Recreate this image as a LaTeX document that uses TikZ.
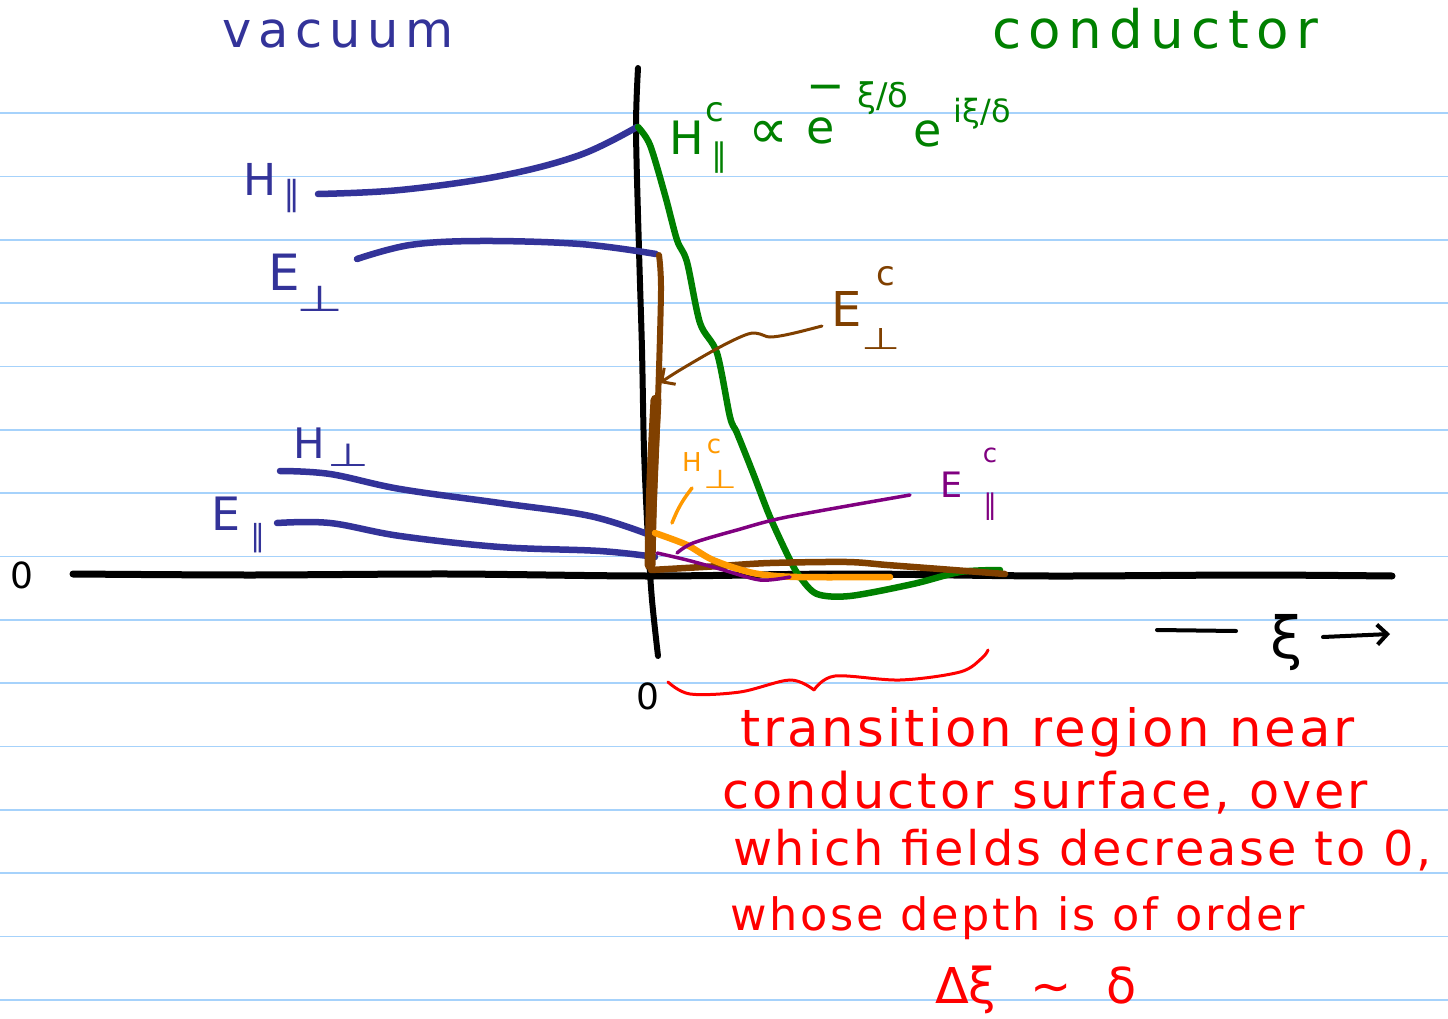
\documentclass[tikz,border=0pt]{standalone}
\usepackage{fontspec}
\setmainfont{DejaVu Sans}
\newfontfamily\handfont[LetterSpace=6]{DejaVu Sans}
\newfontfamily\widefont[LetterSpace=14]{DejaVu Sans}
\usetikzlibrary{arrows.meta}
\definecolor{rulecol}{HTML}{A6D2FB}
\definecolor{vac}{HTML}{333399}
\definecolor{cgreen}{HTML}{008000}
\definecolor{cbrown}{HTML}{804000}
\definecolor{corange}{HTML}{FF9900}
\definecolor{cpurple}{HTML}{800080}
\definecolor{cred}{HTML}{FF0000}
\newcommand\fs[1]{\fontsize{#1}{#1}\selectfont}
\newcommand\fitw[2]{\resizebox{#1pt}{!}{#2}}
\newcommand\wperp[1]{\scalebox{1.5}[1]{#1}}
\tikzset{
  ruleline/.style={rulecol, line width=1.6pt},
  curve/.style={line width=6.5pt, line cap=round, line join=round},
  lbl/.style={inner sep=0pt, outer sep=0pt},
}
\begin{document}
\begin{tikzpicture}[x=1pt,y=-1pt]
\useasboundingbox (0,0) rectangle (1448,1019);
\fill[white] (0,0) rectangle (1448,1019);
% ruled lines
\foreach \yy in {113,176.5,240,303,366.5,430,493,556.5,620,683,746.5,810,873,936.5,1000}
  \draw[ruleline] (0,\yy) -- (1448,\yy);

% headings
\node[lbl, anchor=base west, text=vac] (vac) at (222,48) {\fitw{232}{\widefont\fs{40}vacuum}};
\node[lbl, anchor=base west, text=cgreen] (cond) at (992,49) {\fitw{326}{\widefont\fs{40}conductor}};

% axes
\draw[curve, black, line width=7pt] plot[smooth, tension=0.5] coordinates {(73,574) (250,575) (450,574) (650,576) (850,574) (1050,576) (1250,575) (1392,576)};
\draw[curve, black, line width=6pt] plot[smooth, tension=0.5] coordinates {(638,68) (636,130) (639,250) (642,350) (644,450) (648,540) (652,600) (658,656)};
\node[lbl, text=black] (z1) at (22,575) {\fs{36}0};
\node[lbl, text=black] (z2) at (648,696) {\fs{36}0};

% xi axis label
\coordinate (xa) at (1157,630);
\coordinate (xb) at (1236,631);
\draw[line width=4pt, line cap=round] (xa) -- (xb);
\node[lbl] (xi) at (1287,643) {\fs{58}ξ};
\coordinate (xc) at (1323,637);
\coordinate (xd) at (1390,634);
\draw[line width=4pt, line cap=round, -{Straight Barb[length=10pt,width=20pt,line width=4pt]}] (xc) -- (xd);

% vacuum curves
\draw[curve, vac] plot[smooth, tension=0.6] coordinates {(318,194) (400,190) (500,176) (580,155) (637,127)};
\draw[curve, vac] plot[smooth, tension=0.6] coordinates {(357,259) (410,245) (480,241) (580,244) (656,254)};
\draw[curve, vac] plot[smooth, tension=0.6] coordinates {(280,471) (330,474) (400,489) (500,503) (590,516) (650,535)};
\draw[curve, vac] plot[smooth, tension=0.6] coordinates {(277,523) (330,523) (400,536) (500,547) (600,551) (655,557)};

% vacuum labels
\node[lbl, text=vac, anchor=base west] (hp) at (243,196) {\fs{44}H};
\node[lbl, text=vac] (hpsub) at (292,196) {\fs{34}∥};
\node[lbl, text=vac, anchor=base west] (ep) at (268,290) {\fs{50}E};
\node[lbl, text=vac] (epsub) at (320,299) {\fs{36}\wperp{⊥}};
\node[lbl, text=vac, anchor=base west] (hpp) at (293,458) {\fs{42}H};
\node[lbl, text=vac] (hppsub) at (348,455) {\fs{32}\wperp{⊥}};
\node[lbl, text=vac, anchor=base west] (epp) at (211,530) {\fs{46}E};
\node[lbl, text=vac] (eppsub) at (258,538) {\fs{30}∥};

% green H_par^c
\draw[curve, cgreen] plot[smooth, tension=0.5] coordinates {(638,127) (650,145) (665,195) (677,240) (687,262) (700,323) (717,353) (730,417) (737,433) (753,473) (770,517) (790,560) (800,577) (817,594) (850,596) (913,584) (960,572) (1000,570)};
\node[lbl, text=cgreen, anchor=base west] (gh) at (669,155) {\fs{46}H};
\node[lbl, text=cgreen] (ghc) at (715,112) {\fs{34}c};
\node[lbl, text=cgreen] (ghs) at (719,158) {\fs{32}∥};
\node[lbl, text=cgreen] (gprop) at (768,135) {\fs{56}∝};
\node[lbl, text=cgreen] (ge1) at (821,131) {\fs{46}e};
\node[lbl, text=cgreen] (gmin) at (826,93) {\fs{46}−};
\node[lbl, text=cgreen] (gx1) at (883,98) {\fs{34}ξ/δ};
\node[lbl, text=cgreen] (ge2) at (928,134) {\fs{46}e};
\node[lbl, text=cgreen] (gx2) at (982,114) {\fs{32}iξ/δ};

% brown E_perp^c
\draw[line width=6pt, cbrown, line cap=round] plot[smooth, tension=0.5] coordinates {(659,255) (661,290) (658,400) (654,500) (651,570)};
\draw[line width=11pt, cbrown, line cap=round] plot[smooth, tension=0.5] coordinates {(656,400) (652,480) (650,565)};
\draw[curve, cbrown] plot[smooth, tension=0.5] coordinates {(651,570) (720,566) (770,563) (847,562) (887,565) (940,569) (1005,574)};
\node[lbl, text=cbrown, anchor=base west] (bE) at (831,326) {\fs{48}E};
\node[lbl, text=cbrown] (bc) at (886,276) {\fs{34}c};
\node[lbl, text=cbrown] (bs) at (881,339) {\fs{30}\wperp{⊥}};
\coordinate (barr) at (660,383);
\draw[cbrown, line width=3pt, line cap=round, -{Straight Barb[length=10pt,width=20pt,line width=3pt]}] plot[smooth, tension=0.6] coordinates {(822,326) (790,334) (770,337) (760,334) (748,334) (720,347) (680,370) (barr)};

% orange H_perp^c
\draw[curve, corange] plot[smooth, tension=0.5] coordinates {(655,533) (687,545) (713,560) (753,573) (797,577) (890,577)};
\node[lbl, text=corange] (oH) at (692,462) {\fs{26}H};
\node[lbl, text=corange] (oc) at (714,446) {\fs{26}c};
\node[lbl, text=corange] (os) at (720,479) {\fs{26}\wperp{⊥}};
\coordinate (ol1) at (692,488);
\coordinate (ol2) at (672,523);
\draw[corange, line width=3.5pt, line cap=round] (ol1) to[bend right=8] (ol2);

% purple E_par^c
\draw[cpurple, line width=3.5pt, line cap=round] plot[smooth, tension=0.5] coordinates {(657,553) (687,560) (720,569) (760,580) (790,577)};
\draw[cpurple, line width=3.5pt, line cap=round] plot[smooth, tension=0.5] coordinates {(677,553) (693,543) (737,530) (787,517) (910,495)};
\node[lbl, text=cpurple, anchor=base west] (pE) at (940,497) {\fs{35}E};
\node[lbl, text=cpurple] (pc) at (990,455) {\fs{26}c};
\node[lbl, text=cpurple] (ps) at (990,507) {\fs{28}∥};

% red brace
\draw[cred, line width=3pt, line cap=round] plot[smooth, tension=0.55] coordinates {(668,682) (690,694) (740,692) (790,680) (814,690)};
\draw[cred, line width=3pt, line cap=round] plot[smooth, tension=0.55] coordinates {(814,690) (835,676) (900,680) (960,672) (982,658) (988,650)};

% red text
\node[lbl, anchor=base west, text=cred] (t1) at (740,746) {\fitw{615}{\handfont\fs{40}transition region near}};
\node[lbl, anchor=base west, text=cred] (t2) at (722,808) {\fitw{646}{\handfont\fs{40}conductor surface, over}};
\node[lbl, anchor=base west, text=cred] (t3) at (733,865) {\fitw{699}{\handfont\fs{40}which fields decrease to 0,}};
\node[lbl, anchor=base west, text=cred] (t4) at (730,930) {\fitw{575}{\handfont\fs{40}whose depth is of order}};
\node[lbl, anchor=base west, text=cred] (t5) at (935,1003) {\fitw{202}{\fs{40}Δξ\hspace{28pt}∼\hspace{28pt}δ}};
\end{tikzpicture}
\end{document}
